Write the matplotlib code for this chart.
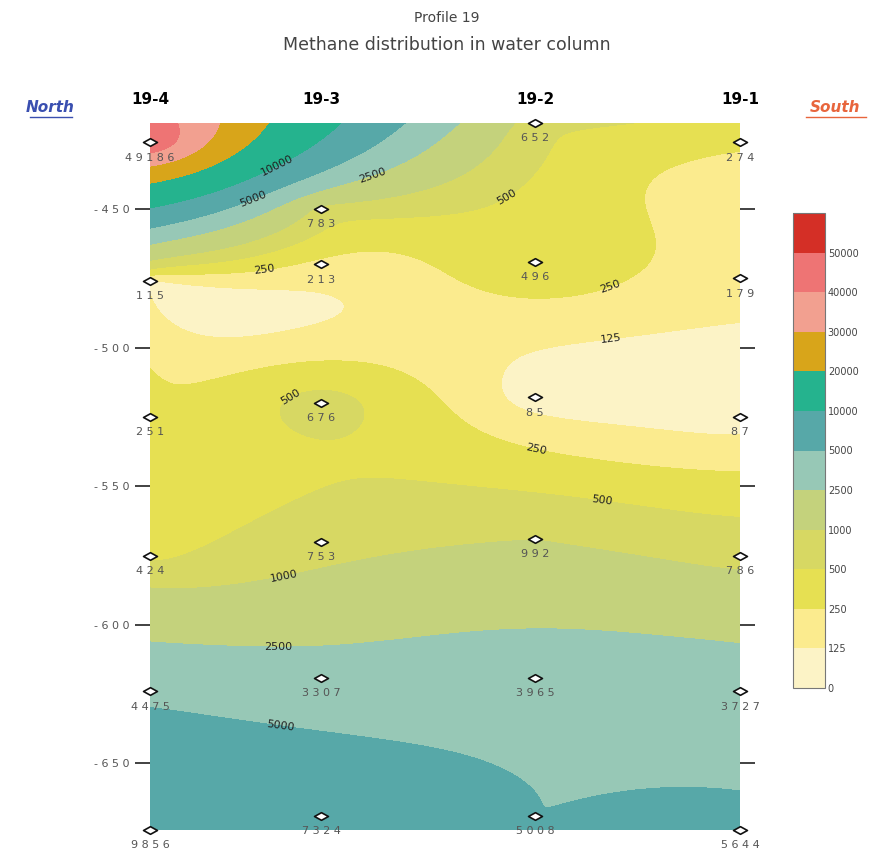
import numpy as np
import matplotlib.pyplot as plt
from matplotlib.path import Path

# stations along the profile, north -> south
stations = ["19-4", "19-3", "19-2", "19-1"]
station_dist = [0, 171, 385, 590]

# sampling depths (m) and methane values for each station
depth_194 = [-426, -476, -525, -575, -624, -674]
depth_193 = [-450, -470, -520, -570, -619, -669]
depth_192 = [-419, -469, -518, -569, -619, -669]
depth_191 = [-426, -475, -525, -575, -624, -674]

ch4_194 = [49186, 115, 251, 424, 4475, 9856]
ch4_193 = [783, 213, 676, 753, 3307, 7324]
ch4_192 = [652, 496, 85, 992, 3965, 5008]
ch4_191 = [274, 179, 87, 786, 3727, 5644]

levels = [0, 125, 250, 500, 1000, 2500, 5000, 10000, 20000, 30000, 40000, 50000, 1e7]
level_labels = ["0", "125", "250", "500", "1000", "2500", "5000", "10000",
                "20000", "30000", "40000", "50000"]
colors = ["#fcf3c6", "#fbeb8e", "#e6e052", "#d7d863", "#c4d27c", "#97c8b6",
          "#57a8a8", "#25b38e", "#d8a51a", "#f2a090", "#ee7474", "#d42f26"]

ytick_vals = [-450, -500, -550, -600, -650]

# contour labels shown on the section: level and rough place (distance, depth)
label_levels = [10000, 5000, 2500, 500, 250, 250, 500, 125, 250, 500, 1000, 2500, 5000]
label_places = [(135, -440), (112, -454), (228, -444), (385, -463), (120, -487),
                (470, -488), (132, -512), (465, -508), (390, -530), (455, -546),
                (133, -580), (128, -601), (130, -639)]

# gather the samples
xs, ds, vs = [], [], []
for dist, deps, vals in zip(station_dist,
                            [depth_194, depth_193, depth_192, depth_191],
                            [ch4_194, ch4_193, ch4_192, ch4_191]):
    for d, v in zip(deps, vals):
        xs.append(dist)
        ds.append(d)
        vs.append(v)
xs = np.array(xs, float)
ds = np.array(ds, float)
vs = np.array(vs, float)

# gridding: kriging (linear variogram, anisotropic) on a power of the values
POW = 0.45
XSCALE = 0.45
YSCALE = 2.78
px, py = xs * XSCALE, ds * YSCALE
n = len(px)
R = np.hypot(px[:, None] - px[None, :], py[:, None] - py[None, :])
A = np.ones((n + 1, n + 1))
A[:n, :n] = R
A[n, n] = 0
coef = np.linalg.solve(A, np.concatenate([vs ** POW, [0]]))

gx, gd = np.meshgrid(np.linspace(0, 590, 400), np.linspace(-674, -419, 400))
rg = np.hypot(gx[..., None] * XSCALE - px, gd[..., None] * YSCALE - py)
gt = rg @ coef[:n] + coef[n]
gz = np.clip(gt, 0, None) ** (1 / POW)

fig = plt.figure(figsize=(8.72, 8.57), dpi=100)
ax = fig.add_axes([150 / 872, 1 - 830 / 857, 590 / 872, 707 / 857])

cf = ax.contourf(gx, gd, gz, levels=levels, colors=colors)
for lev, place in zip(label_levels, label_places):
    c = ax.contour(gx, gd, gz, levels=[lev], colors="none", linewidths=0)
    ax.clabel(c, fmt=lambda v: "%d" % v, fontsize=8, colors="#222222",
              inline=False, manual=[place])

diamond = Path([(-1, 0), (0, 0.55), (1, 0), (0, -0.55), (-1, 0)],
               [Path.MOVETO, Path.LINETO, Path.LINETO, Path.LINETO, Path.CLOSEPOLY])
ax.plot(xs, ds, linestyle="none", marker=diamond, markersize=10,
        markerfacecolor="white", markeredgecolor="#111111", mew=1.2, clip_on=False, zorder=5)
for x, d, v in zip(xs, ds, vs):
    ax.annotate(" ".join(str(int(v))), (x, d), xytext=(0, -11), textcoords="offset points",
                ha="center", va="center", fontsize=8, color="#555555", annotation_clip=False, zorder=6)

ax.set_xlim(0, 590)
ax.set_ylim(-674, -419)
ax.set_xticks([])
ax.set_yticks(ytick_vals)
ax.set_yticklabels([" ".join(str(t)) for t in ytick_vals], fontsize=8, color="#555555")
ax.tick_params(axis="y", which="both", left=True, right=True, direction="out",
               length=11, width=1.3, color="#333333", pad=4)
for s in ax.spines.values():
    s.set_visible(False)

for name, x in zip(stations, station_dist):
    ax.annotate(name, (x, -419), xytext=(0, 17), textcoords="offset points",
                ha="center", va="center", fontsize=11, fontweight="bold", annotation_clip=False)

fig.text(50 / 872, 1 - 107 / 857, "North", fontsize=11, fontweight="bold", style="italic",
         color="#3a4fb0", ha="center", va="center")
fig.text(835 / 872, 1 - 107 / 857, "South", fontsize=11, fontweight="bold", style="italic",
         color="#e8653c", ha="center", va="center")
fig.add_artist(plt.Line2D([30 / 872, 72 / 872], [1 - 117 / 857] * 2, color="#3a4fb0", lw=1))
fig.add_artist(plt.Line2D([806 / 872, 866 / 872], [1 - 117 / 857] * 2, color="#e8653c", lw=1))

fig.text(447 / 872, 1 - 18 / 857, "Profile 19", fontsize=10, color="#444444", ha="center", va="center")
fig.text(447 / 872, 1 - 45 / 857, "Methane distribution in water column", fontsize=12.5,
         color="#444444", ha="center", va="center")

cax = fig.add_axes([793 / 872, 1 - 688 / 857, 32 / 872, 475 / 857])
cb = fig.colorbar(cf, cax=cax, spacing="uniform", ticks=levels[:-1])
cb.ax.set_yticklabels(level_labels, fontsize=7, color="#444444")
cb.ax.tick_params(length=0, pad=2)
cb.outline.set_edgecolor("#777777")

fig.savefig("out.png", dpi=100)
